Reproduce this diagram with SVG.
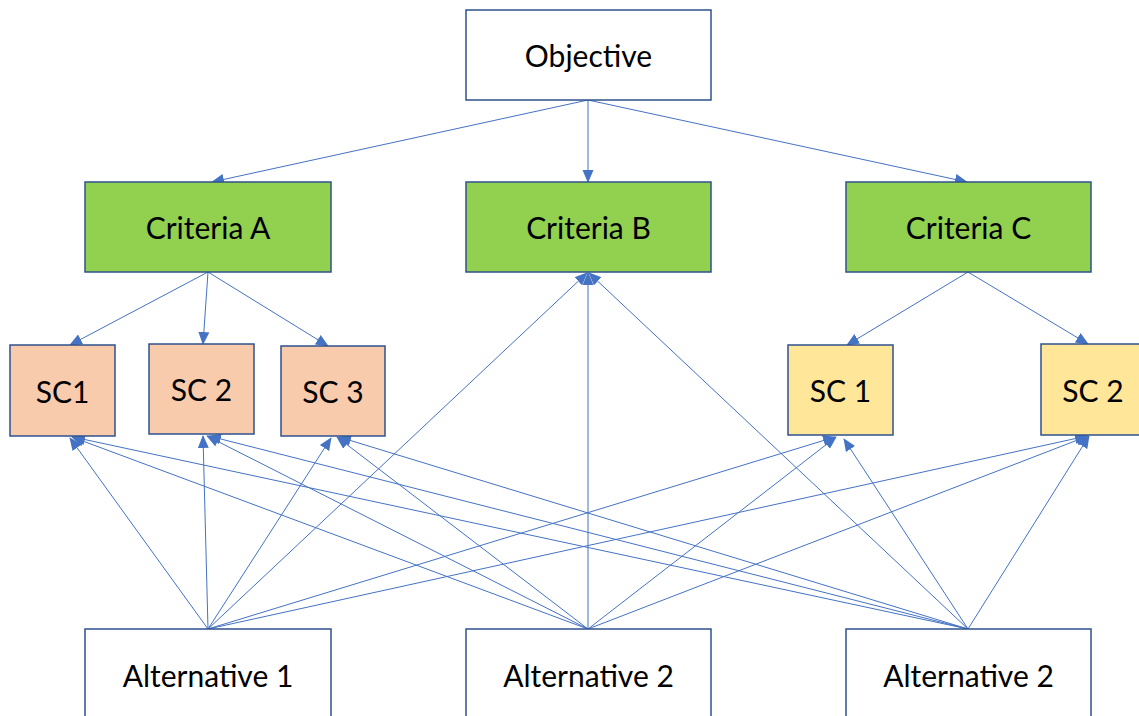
<svg xmlns="http://www.w3.org/2000/svg" width="1139" height="716" viewBox="0 0 1139 716">
<style>
.box{stroke:#2F528F;stroke-width:1.5}
.w{fill:#FFFFFF}.g{fill:#92D050}.p{fill:#F8CBAD}.y{fill:#FFE699}
text{font-family:Lato,"Liberation Sans",sans-serif;font-size:30px;fill:#000;text-anchor:middle;dominant-baseline:central}
.c line{stroke:#4472C4;stroke-width:1;marker-end:url(#ah)}
</style>
<defs>
<marker id="ah" markerUnits="userSpaceOnUse" markerWidth="13" markerHeight="13" viewBox="0 0 13 13" refX="12" refY="6.5" orient="auto">
<path d="M0,1 L13,6.5 L0,12 z" fill="#4472C4"/>
</marker>
</defs>
<rect width="1139" height="716" fill="#FFFFFF"/>
<g class="c" id="connectors">
<line x1="588" y1="100" x2="212" y2="182"/>
<line x1="588" y1="100" x2="588" y2="182"/>
<line x1="588" y1="100" x2="967" y2="182"/>
<line x1="208" y1="272" x2="70" y2="345"/>
<line x1="208" y1="272" x2="203" y2="344"/>
<line x1="208" y1="272" x2="328" y2="346"/>
<line x1="968" y1="272" x2="847" y2="345"/>
<line x1="968" y1="272" x2="1088" y2="344"/>
<line x1="208" y1="629" x2="70" y2="438"/>
<line x1="208" y1="629" x2="203" y2="436"/>
<line x1="208" y1="629" x2="331" y2="438"/>
<line x1="208" y1="629" x2="587" y2="273"/>
<line x1="208" y1="629" x2="835" y2="437"/>
<line x1="208" y1="629" x2="1087" y2="436"/>
<line x1="588" y1="629" x2="72" y2="437"/>
<line x1="588" y1="629" x2="207" y2="436"/>
<line x1="588" y1="629" x2="337" y2="437"/>
<line x1="588" y1="629" x2="588" y2="273"/>
<line x1="588" y1="629" x2="836" y2="437"/>
<line x1="588" y1="629" x2="1088" y2="436"/>
<line x1="968" y1="629" x2="73" y2="437"/>
<line x1="968" y1="629" x2="209" y2="436"/>
<line x1="968" y1="629" x2="339" y2="437"/>
<line x1="968" y1="629" x2="589" y2="273"/>
<line x1="968" y1="629" x2="844" y2="439"/>
<line x1="968" y1="629" x2="1089" y2="436"/>
</g>
<g id="objective"><rect class="box w" x="466" y="10" width="245" height="90"/><text x="588.5" y="55">Objective</text></g>
<g id="criteriaA"><rect class="box g" x="85" y="182" width="246" height="90"/><text x="208" y="227">Criteria A</text></g>
<g id="criteriaB"><rect class="box g" x="466" y="182" width="245" height="90"/><text x="588.5" y="227">Criteria B</text></g>
<g id="criteriaC"><rect class="box g" x="846" y="182" width="245" height="90"/><text x="968.5" y="227">Criteria C</text></g>
<g id="scA1"><rect class="box p" x="10" y="345" width="105" height="91"/><text x="62.5" y="391">SC1</text></g>
<g id="scA2"><rect class="box p" x="149" y="344" width="105" height="90"/><text x="201.5" y="389">SC 2</text></g>
<g id="scA3"><rect class="box p" x="281" y="346" width="104" height="90"/><text x="333" y="391">SC 3</text></g>
<g id="scC1"><rect class="box y" x="788" y="345" width="105" height="90"/><text x="840.5" y="390">SC 1</text></g>
<g id="scC2"><rect class="box y" x="1041" y="344" width="105" height="91"/><text x="1093" y="390">SC 2</text></g>
<g id="alt1"><rect class="box w" x="85" y="629" width="246" height="100"/><text x="208" y="675">Alternative 1</text></g>
<g id="alt2"><rect class="box w" x="466" y="629" width="245" height="100"/><text x="588.5" y="675">Alternative 2</text></g>
<g id="alt3"><rect class="box w" x="846" y="629" width="245" height="100"/><text x="968.5" y="675">Alternative 2</text></g>
</svg>
